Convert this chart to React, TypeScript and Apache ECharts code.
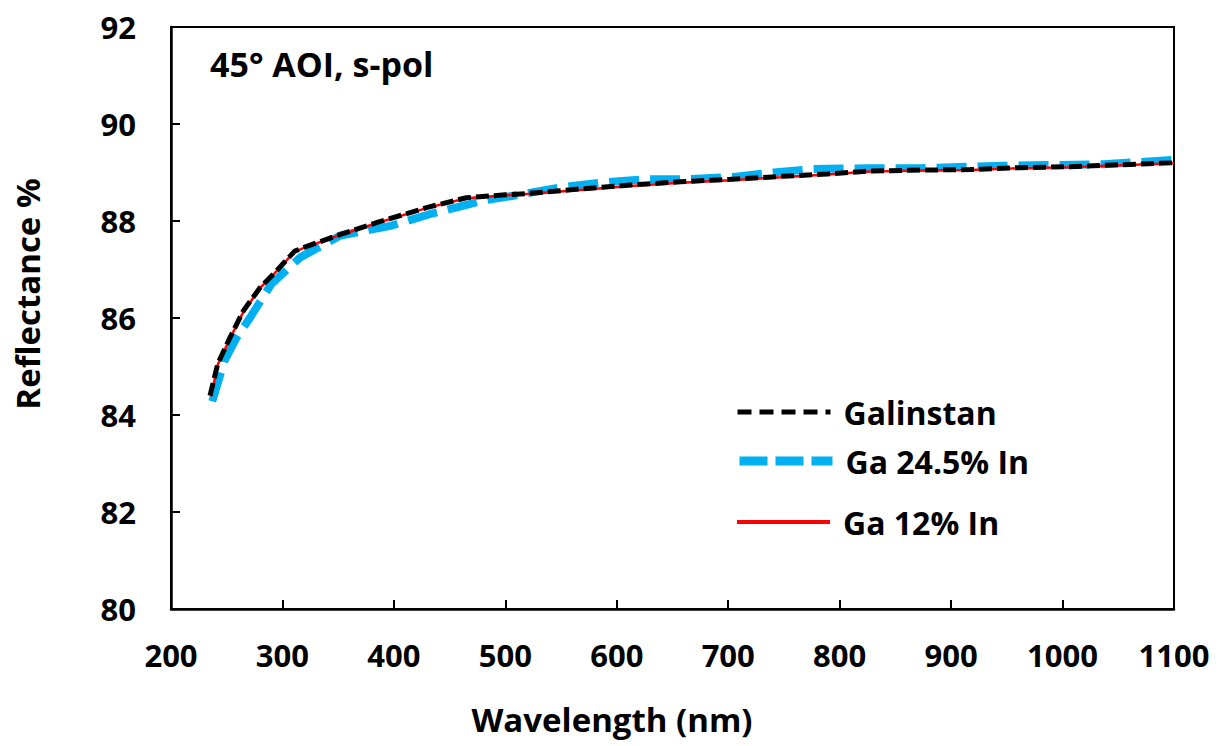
import React, { useEffect, useRef } from "react";
import * as echarts from "echarts";

const galWl = [235, 242, 253, 265, 280, 295, 311, 320, 349, 385, 430, 465, 500, 522, 567, 612, 657, 702, 747, 789, 827, 872, 917, 962, 1007, 1052, 1100];
const galR = [84.4, 85.06, 85.6, 86.15, 86.63, 86.98, 87.38, 87.46, 87.7, 87.97, 88.28, 88.48, 88.54, 88.57, 88.66, 88.74, 88.81, 88.86, 88.92, 88.97, 89.03, 89.05, 89.06, 89.1, 89.12, 89.16, 89.2];

const ga245Wl = [237, 248, 259, 271, 290, 316, 352, 397, 432, 468, 480, 507, 549, 585, 627, 663, 705, 741, 776, 827, 872, 947, 1037, 1100];
const ga245R = [84.28, 85.12, 85.6, 86.01, 86.7, 87.25, 87.7, 87.9, 88.14, 88.35, 88.42, 88.52, 88.69, 88.79, 88.86, 88.86, 88.91, 89.0, 89.07, 89.09, 89.09, 89.14, 89.17, 89.26];

const ga12Wl = [236, 242, 253, 265, 280, 295, 311, 320, 349, 385, 430, 465, 500, 522, 567, 612, 657, 702, 747, 789, 827, 872, 917, 962, 1007, 1052, 1100];
const ga12R = [84.38, 85.04, 85.58, 86.13, 86.62, 86.97, 87.37, 87.45, 87.69, 87.96, 88.27, 88.47, 88.53, 88.56, 88.64, 88.72, 88.79, 88.84, 88.9, 88.96, 89.02, 89.04, 89.05, 89.09, 89.11, 89.15, 89.19];

const xTicks = { min: 200, max: 1100, interval: 100 };
const yTicks = { min: 80, max: 92, interval: 2 };

const FONT = "'Open Sans', sans-serif";

export default function App() {
  const ref = useRef<HTMLDivElement>(null);
  useEffect(() => {
    if (!ref.current) return;
    const chart = echarts.init(ref.current, undefined, { renderer: "svg" });
    const pair = (w: number[], r: number[]) => w.map((x, i) => [x, r[i]]);
    const legendBase = {
      left: 730,
      itemWidth: 93,
      itemHeight: 12,
      itemGap: 0,
      itemStyle: { opacity: 0 },
      textStyle: { fontFamily: FONT, fontWeight: "bold" as const, fontSize: 32, color: "#000", padding: [0, 0, 0, 8] },
    };
    chart.setOption({
      animation: false,
      backgroundColor: "#fff",
      grid: { left: 171, top: 27, right: 53, bottom: 137, show: true, borderColor: "#000", borderWidth: 2 },
      xAxis: {
        type: "value",
        ...xTicks,
        axisLine: { show: true, lineStyle: { color: "#000", width: 2.5 } },
        axisTick: { show: true, inside: true, length: 9, lineStyle: { color: "#000", width: 2 } },
        splitLine: { show: false },
        axisLabel: { color: "#000", fontFamily: FONT, fontWeight: "bold", fontSize: 31, margin: 30, formatter: (v: number) => String(v) },
      },
      yAxis: {
        type: "value",
        ...yTicks,
        axisLine: { show: true, lineStyle: { color: "#000", width: 2.5 } },
        axisTick: { show: true, inside: true, length: 9, lineStyle: { color: "#000", width: 2 } },
        splitLine: { show: false },
        axisLabel: { color: "#000", fontFamily: FONT, fontWeight: "bold", fontSize: 31, margin: 35 },
      },
      legend: [
        { ...legendBase, top: 391, data: ["Galinstan"], lineStyle: { color: "#000", width: 5, type: [14, 8] } },
        { ...legendBase, top: 440, data: ["Ga 24.5% In"], lineStyle: { color: "#00B0F0", width: 9, type: [28, 8] } },
        { ...legendBase, top: 501, data: ["Ga 12% In"], lineStyle: { color: "#FF0000", width: 4, type: "solid" } },
      ],
      graphic: [
        {
          type: "text",
          x: 210,
          y: 64,
          style: { text: "45° AOI, s-pol", font: `bold 34px ${FONT}`, fill: "#000", textVerticalAlign: "middle" },
        },
        {
          type: "text",
          x: 27,
          y: 294,
          rotation: Math.PI / 2,
          style: { text: "Reflectance %", font: `bold 33px ${FONT}`, fill: "#000", textAlign: "center", textVerticalAlign: "middle" },
        },
        {
          type: "text",
          x: 612,
          y: 719,
          style: { text: "Wavelength (nm)", font: `bold 33px ${FONT}`, fill: "#000", textAlign: "center", textVerticalAlign: "middle" },
        },
      ],
      series: [
        {
          name: "Ga 24.5% In",
          type: "line",
          data: pair(ga245Wl, ga245R),
          showSymbol: false,
          symbol: "none",
          z: 2,
          lineStyle: { color: "#00B0F0", width: 8, type: [30, 11], cap: "butt" },
          itemStyle: { color: "#00B0F0" },
        },
        {
          name: "Ga 12% In",
          type: "line",
          data: pair(ga12Wl, ga12R),
          showSymbol: false,
          symbol: "none",
          z: 3,
          lineStyle: { color: "#FF0000", width: 2.5, type: "solid" },
          itemStyle: { color: "#FF0000" },
        },
        {
          name: "Galinstan",
          type: "line",
          data: pair(galWl, galR),
          showSymbol: false,
          symbol: "none",
          z: 4,
          lineStyle: { color: "#000", width: 5, type: [13, 5], cap: "butt" },
          itemStyle: { color: "#000" },
        },
      ],
    });
    return () => chart.dispose();
  }, []);
  return <div ref={ref} style={{ position: "fixed", left: 0, top: 0, width: 1227, height: 746 }} />;
}
